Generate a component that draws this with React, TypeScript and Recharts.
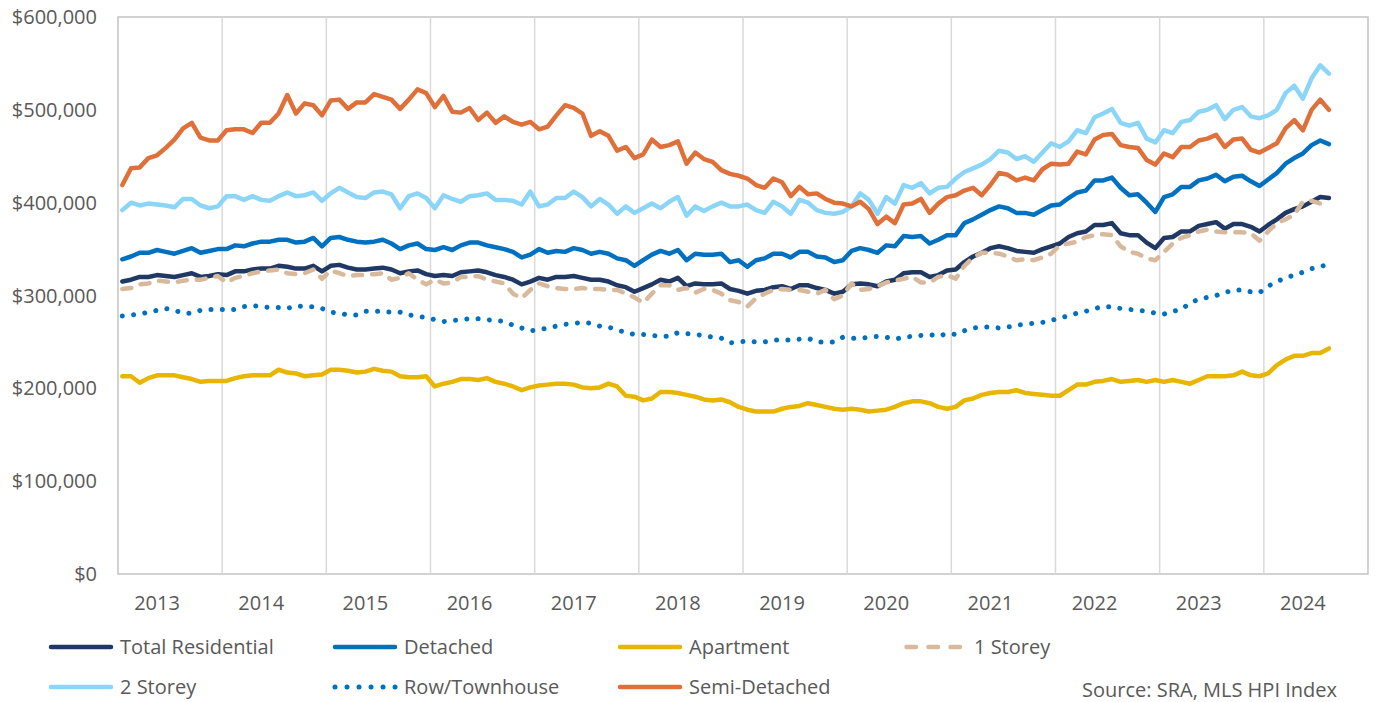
import React from 'react';
import { LineChart, Line, XAxis, YAxis, ReferenceLine, ReferenceArea, Legend } from 'recharts';

// Monthly MLS HPI benchmark prices ($000s), first observation Sep 2012, last Apr 2024
const totalResidential = [
  315,317,320,320,322,321,320,322,324,320,321,323,322,326,326,328,329,329,332,331,329,329,332,326,
  332,333,330,328,328,329,330,328,324,326,327,323,321,322,321,325,326,327,325,322,320,317,312,315,
  319,317,320,320,321,319,317,317,315,311,309,304,308,312,317,315,319,310,313,312,312,313,307,305,
  302,305,306,309,310,307,311,311,308,306,302,304,312,313,312,310,315,317,324,325,325,320,322,327,
  328,336,342,346,351,353,351,348,347,346,350,353,356,363,367,369,376,376,378,367,365,365,357,
  351,362,363,369,369,375,377,379,372,377,377,374,369,376,382,389,393,396,401,406,405,
];
const detached = [
  339,342,346,346,349,347,345,348,351,346,348,350,350,354,353,356,358,358,360,360,357,358,362,353,
  362,363,360,358,357,358,360,356,350,354,356,350,349,352,349,354,357,357,354,352,350,347,341,344,
  350,346,348,347,351,349,345,347,345,340,338,332,338,344,348,345,349,338,345,344,344,345,336,338,
  331,338,340,345,345,341,347,347,342,341,336,338,348,351,349,346,354,353,364,363,364,356,360,365,
  365,378,382,387,392,396,394,389,389,387,392,397,398,405,411,413,424,424,427,416,408,409,400,
  390,406,409,417,417,424,426,430,423,428,429,423,418,425,432,442,448,453,462,467,463,
];
const apartment = [
  213,213,206,211,214,214,214,212,210,207,208,208,208,211,213,214,214,214,220,217,216,213,214,215,
  220,220,219,217,218,221,219,218,213,212,212,213,202,205,207,210,210,209,211,207,205,202,198,201,
  203,204,205,205,204,201,200,201,205,202,192,191,187,189,196,196,195,193,191,188,187,188,185,180,
  177,175,175,175,178,180,181,184,182,180,178,177,178,177,175,176,177,180,184,186,186,184,180,178,
  180,187,189,193,195,196,196,198,195,194,193,192,192,198,204,204,207,208,210,207,208,209,207,
  209,207,209,207,205,209,213,213,213,214,218,214,213,216,225,231,235,235,238,238,243,
];
const oneStorey = [
  307,308,312,313,316,315,314,316,317,317,319,321,314,319,321,324,326,327,328,324,323,324,328,318,
  327,324,321,322,322,323,324,317,319,324,317,312,317,313,314,320,320,321,317,315,313,302,297,306,
  313,310,308,307,307,308,307,307,306,306,302,298,292,302,311,311,306,308,303,307,306,302,295,293,
  288,297,302,306,307,306,306,304,302,306,296,300,313,306,307,310,314,316,318,320,314,314,320,322,
  318,332,341,346,346,345,342,338,339,338,341,345,354,356,358,363,365,366,365,353,347,345,340,
  338,347,356,362,365,369,371,369,368,368,368,367,359,369,378,382,387,401,402,399,399,
];
const twoStorey = [
  392,400,397,399,398,397,395,404,404,397,394,396,407,407,403,407,403,402,407,411,407,408,411,402,
  410,416,411,406,405,411,412,409,394,407,410,405,394,408,404,401,407,408,410,403,403,402,398,412,
  396,398,405,405,412,406,396,404,398,388,396,389,394,399,394,401,406,386,396,391,396,400,396,396,
  398,392,389,401,396,388,403,400,392,389,388,390,396,410,403,388,406,399,419,416,421,410,416,417,
  426,433,437,441,447,456,454,447,450,444,454,464,460,466,478,475,492,496,501,486,483,486,469,
  465,478,475,487,489,498,500,505,490,500,503,493,491,494,500,518,526,512,534,548,539,
];
const rowTownhouse = [
  278,279,280,282,284,286,284,281,281,284,285,285,285,285,288,289,288,287,287,286,289,288,288,286,
  282,281,279,279,283,283,283,282,282,279,278,276,274,272,273,274,275,275,274,273,272,268,265,262,
  263,265,267,269,270,271,270,267,266,263,260,258,258,257,256,256,260,259,258,257,255,254,249,250,
  251,250,250,252,252,252,253,254,250,250,250,255,254,254,255,256,255,253,255,256,257,258,256,259,
  258,262,265,266,266,265,266,268,269,270,271,273,276,278,281,283,286,288,288,286,285,284,283,
  281,280,283,285,292,296,298,300,303,306,306,304,303,310,315,319,322,325,329,331,334,
];
const semiDetached = [
  419,437,438,448,451,459,468,480,486,470,467,467,478,479,479,475,486,486,496,516,496,507,505,494,
  510,511,501,508,508,517,514,511,501,511,522,518,503,515,498,497,502,489,497,486,493,487,484,487,
  479,482,494,505,502,496,472,477,472,456,460,448,452,468,460,462,466,442,454,447,444,435,431,429,
  426,419,416,426,422,407,417,409,410,404,400,399,396,401,393,377,385,378,398,399,404,389,399,406,
  408,413,416,408,419,432,430,424,427,424,436,442,441,442,455,452,468,473,474,462,460,459,446,
  441,453,449,460,460,467,469,473,460,468,469,457,454,459,464,480,489,478,500,511,500,
];

const yearLabels = ['2013','2014','2015','2016','2017','2018','2019','2020','2021','2022','2023','2024'];
const yTicks = [0, 100000, 200000, 300000, 400000, 500000, 600000];
const sourceNote = 'Source: SRA, MLS HPI Index';

// axis structure: 144 monthly categories (Sep 2012 .. Aug 2024), January of each year labelled
const CATEGORY_COUNT = 144;
const FIRST_JAN_INDEX = 4;
const yearTickIndex = yearLabels.map((_, k) => FIRST_JAN_INDEX + 12 * k);
const yearBoundaries = Array.from({ length: 11 }, (_, k) => 11.5 + 12 * k);

const series = [
  { key: 'total', name: 'Total Residential', values: totalResidential, color: '#203864', dash: undefined as string | undefined, width: 4.5 },
  { key: 'detached', name: 'Detached', values: detached, color: '#0070c0', dash: undefined, width: 4.5 },
  { key: 'apartment', name: 'Apartment', values: apartment, color: '#e8b600', dash: undefined, width: 4.5 },
  { key: 'oneStorey', name: '1 Storey', values: oneStorey, color: '#d8b99c', dash: '9 10', width: 4.5 },
  { key: 'twoStorey', name: '2 Storey', values: twoStorey, color: '#8bd5f8', dash: undefined, width: 4.5 },
  { key: 'row', name: 'Row/Townhouse', values: rowTownhouse, color: '#0070c0', dash: '0.01 11.3', width: 5 },
  { key: 'semi', name: 'Semi-Detached', values: semiDetached, color: '#e07039', dash: undefined, width: 4.5 },
];

const tableData = totalResidential.map((_, i) => {
  const row: Record<string, number> = { i };
  series.forEach((s) => {
    row[s.key] = s.values[i] * 1000;
  });
  return row;
});

const FONT = '"Open Sans", "Noto Sans", sans-serif';
const TEXT_COLOR = '#595959';

const legendLayout = [
  { col: 48, row: 0 },
  { col: 332, row: 0 },
  { col: 617, row: 0 },
  { col: 902, row: 0 },
  { col: 48, row: 1 },
  { col: 332, row: 1 },
  { col: 617, row: 1 },
];

function LegendSample({ color, dash, width, legendDash }: { color: string; dash?: string; width: number; legendDash?: string }) {
  return (
    <svg width={66} height={14} style={{ display: 'block' }}>
      <line
        x1={dash ? (dash.startsWith('0.01') ? 3 : 4.5) : 3}
        x2={dash ? (dash.startsWith('0.01') ? 63.1 : 61.5) : 63}
        y1={7}
        y2={7}
        stroke={color}
        strokeWidth={width}
        strokeLinecap="round"
        strokeDasharray={legendDash}
      />
    </svg>
  );
}

function ChartLegend() {
  return (
    <div style={{ position: 'relative', width: 1377, height: 74, fontFamily: FONT, fontSize: 20, color: TEXT_COLOR }}>
      {series.map((s, idx) => {
        const pos = legendLayout[idx];
        const legendDash = s.dash ? (s.dash.startsWith('0.01') ? '0.01 12' : '9.5 12.5') : undefined;
        return (
          <div
            key={s.key}
            style={{ position: 'absolute', left: pos.col, top: pos.row * 40, height: 34, display: 'flex', alignItems: 'center', whiteSpace: 'nowrap' }}
          >
            <LegendSample color={s.color} dash={s.dash} width={s.width} legendDash={legendDash} />
            <span style={{ marginLeft: 6, lineHeight: '34px' }}>{s.name}</span>
          </div>
        );
      })}
      <div style={{ position: 'absolute', left: 1082, top: 43, height: 34, lineHeight: '34px', whiteSpace: 'nowrap' }}>{sourceNote}</div>
    </div>
  );
}

const fmtDollar = (v: number) => '$' + Number(v).toLocaleString('en-US');
const fmtYear = (v: number) => {
  const k = yearTickIndex.indexOf(v);
  return k >= 0 ? yearLabels[k] : '';
};

export default function App() {
  const tickStyle = { fill: TEXT_COLOR, fontSize: 20, fontFamily: FONT };
  return (
    <div style={{ position: 'absolute', left: 0, top: 0, width: 1377, height: 702, background: '#ffffff', fontFamily: FONT }}>
      <LineChart width={1377} height={702} data={tableData} margin={{ top: 17, right: 9, bottom: 98, left: 0 }}>
        <XAxis
          type="number"
          dataKey="i"
          domain={[-0.5, CATEGORY_COUNT - 0.5]}
          ticks={yearTickIndex}
          tickFormatter={fmtYear}
          interval={0}
          axisLine={false}
          tickLine={false}
          tickSize={0}
          tickMargin={22}
          height={30}
          tick={tickStyle}
          allowDataOverflow
        />
        <YAxis
          type="number"
          domain={[0, 600000]}
          ticks={yTicks}
          tickFormatter={fmtDollar}
          interval={0}
          axisLine={false}
          tickLine={false}
          tickSize={0}
          tickMargin={21}
          width={118}
          tick={tickStyle}
          allowDataOverflow
        />
        {yearBoundaries.map((b) => (
          <ReferenceLine key={b} x={b} stroke="#d9d9d9" strokeWidth={1.5} />
        ))}
        <ReferenceArea x1={-0.5} x2={CATEGORY_COUNT - 0.5} y1={0} y2={600000} fill="none" fillOpacity={0} stroke="#c4c4c4" strokeWidth={1.5} />
        {series.map((s) => (
          <Line
            key={s.key}
            type="linear"
            dataKey={s.key}
            name={s.name}
            stroke={s.color}
            strokeWidth={s.width}
            strokeDasharray={s.dash}
            strokeLinecap="round"
            strokeLinejoin="round"
            dot={false}
            activeDot={false}
            isAnimationActive={false}
          />
        ))}
        <Legend
          layout="horizontal"
          verticalAlign="middle"
          align="center"
          content={() => <ChartLegend />}
          wrapperStyle={{ top: 630, left: 0, width: 1377, height: 74 }}
        />
      </LineChart>
    </div>
  );
}
